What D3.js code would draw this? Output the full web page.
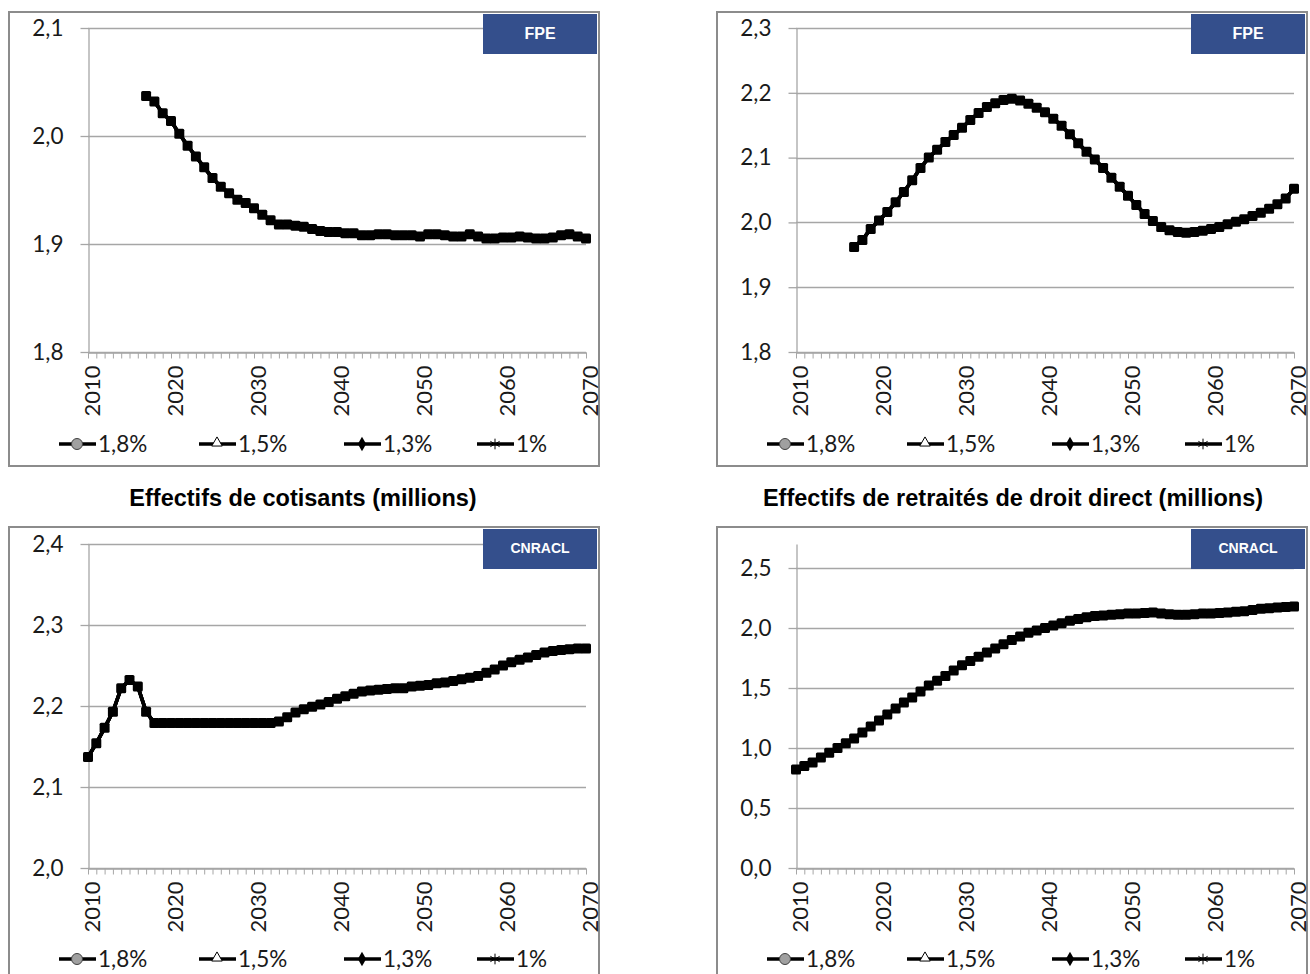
<!DOCTYPE html>
<html><head><meta charset="utf-8">
<script src="https://cdn.jsdelivr.net/npm/d3@7"></script>
<style>body{margin:0;background:#fff}svg{display:block}</style>
</head><body>
<svg id="chart" width="1310" height="974"></svg>
<script>
// ---------- DATA ----------
const years = [2010,2011,2012,2013,2014,2015,2016,2017,2018,2019,
  2020,2021,2022,2023,2024,2025,2026,2027,2028,2029,
  2030,2031,2032,2033,2034,2035,2036,2037,2038,2039,
  2040,2041,2042,2043,2044,2045,2046,2047,2048,2049,
  2050,2051,2052,2053,2054,2055,2056,2057,2058,2059,
  2060,2061,2062,2063,2064,2065,2066,2067,2068,2069,2070];
const xTickLabels = [2010,2020,2030,2040,2050,2060,2070];
const seriesNames = ["1,8%","1,5%","1,3%","1%"];

const fpeCotisants = [null,null,null,null,null,null,null,
  2.037,2.032,2.021,2.014,2.002,1.991,1.981,1.971,1.961,1.953,
  1.947,1.941,1.938,1.933,1.927,1.922,1.918,1.918,1.917,1.916,
  1.914,1.912,1.911,1.911,1.910,1.910,1.908,1.908,1.909,1.909,
  1.908,1.908,1.908,1.907,1.909,1.909,1.908,1.907,1.907,1.909,
  1.907,1.905,1.905,1.906,1.906,1.907,1.906,1.905,1.905,1.906,
  1.908,1.909,1.907,1.905];
const fpeRetraites = [null,null,null,null,null,null,null,
  1.962,1.973,1.990,2.003,2.016,2.031,2.047,2.065,2.084,2.100,
  2.112,2.124,2.135,2.146,2.158,2.169,2.178,2.184,2.189,2.191,
  2.188,2.183,2.177,2.170,2.160,2.149,2.136,2.122,2.109,2.097,
  2.084,2.069,2.055,2.041,2.027,2.013,2.002,1.993,1.988,1.985,
  1.984,1.985,1.987,1.990,1.993,1.997,2.001,2.005,2.010,2.015,
  2.021,2.028,2.037,2.052];
const cnraclCotisants = [
  2.137,2.154,2.173,2.193,2.222,2.232,2.224,2.193,2.179,2.179,
  2.179,2.179,2.179,2.179,2.179,2.179,2.179,2.179,2.179,2.179,
  2.179,2.179,2.179,2.181,2.186,2.192,2.196,2.199,2.202,2.205,
  2.209,2.212,2.215,2.218,2.219,2.220,2.221,2.222,2.222,2.224,
  2.225,2.226,2.228,2.229,2.231,2.233,2.235,2.237,2.241,2.245,
  2.250,2.254,2.257,2.260,2.263,2.266,2.268,2.269,2.270,2.271,
  2.271];
const cnraclRetraites = [
  0.82,0.85,0.88,0.92,0.96,1.00,1.04,1.08,1.13,1.18,
  1.23,1.28,1.33,1.38,1.42,1.47,1.52,1.56,1.60,1.645,
  1.69,1.725,1.76,1.795,1.83,1.865,1.90,1.93,1.96,1.98,
  2.00,2.02,2.04,2.06,2.075,2.09,2.10,2.105,2.11,2.115,
  2.12,2.12,2.125,2.13,2.12,2.115,2.11,2.11,2.115,2.12,
  2.12,2.125,2.13,2.135,2.14,2.15,2.16,2.165,2.17,2.175,
  2.18];

const yTicksFpeCot = [1.8,1.9,2.0,2.1];
const yTicksFpeRet = [1.8,1.9,2.0,2.1,2.2,2.3];
const yTicksCnrCot = [2.0,2.1,2.2,2.3,2.4];
const yTicksCnrRet = [0,0.5,1.0,1.5,2.0,2.5];

const titles = ["Effectifs de cotisants (millions)", "Effectifs de retraités de droit direct (millions)"];

// ---------- LAYOUT ----------
const panels = [
  {box:[9,12,590,454],  plot:[88,28,586,352],   domain:[1.8,2.1], ticks:yTicksFpeCot, values:fpeCotisants,    badge:"FPE",    badgeSize:16},
  {box:[717,12,590,454],plot:[796,28,1294,352], domain:[1.8,2.3], ticks:yTicksFpeRet, values:fpeRetraites,    badge:"FPE",    badgeSize:16},
  {box:[9,527,590,454], plot:[88,544,586,868],  domain:[2.0,2.4], ticks:yTicksCnrCot, values:cnraclCotisants, badge:"CNRACL", badgeSize:14},
  {box:[717,527,590,454],plot:[796,544,1294,868],domain:[0,2.7],  ticks:yTicksCnrRet, values:cnraclRetraites, badge:"CNRACL", badgeSize:14}
];

const svg = d3.select("#chart");
const fmt = v => d3.format(".1f")(v).replace(".", ",");
const tickFont = "Lato, 'Open Sans', sans-serif";
const gridColor = "#a6a6a6";

panels.forEach(p => {
  const [bx,by,bw,bh] = p.box;
  const [x0,y0,x1,y1] = p.plot;
  const g = svg.append("g");
  g.append("rect").attr("x",bx).attr("y",by).attr("width",bw).attr("height",bh)
    .attr("fill","#fff").attr("stroke","#8c8c8c").attr("stroke-width",2);

  const x = d3.scaleLinear().domain([years[0], years[years.length-1]]).range([x0,x1]);
  const y = d3.scaleLinear().domain(p.domain).range([y1,y0]);

  // gridlines
  g.append("g").selectAll("line").data(p.ticks).join("line")
    .attr("x1",x0).attr("x2",x1).attr("y1",d=>Math.round(y(d))+0.5).attr("y2",d=>Math.round(y(d))+0.5)
    .attr("stroke",gridColor).attr("stroke-width",1.3);

  // y axis
  const ya = g.append("g").attr("transform",`translate(${x0+0.5},0)`)
    .call(d3.axisLeft(y).tickValues(p.ticks).tickFormat(fmt).tickSize(8).tickSizeOuter(0).tickPadding(17));
  ya.select(".domain").attr("stroke",gridColor).attr("stroke-width",1.3);
  ya.selectAll(".tick line").attr("stroke",gridColor).attr("stroke-width",1.3);
  ya.selectAll("text").attr("font-family",tickFont).attr("font-size",22.5).attr("fill","#1a1a1a");

  // x axis
  const xa = g.append("g").attr("transform",`translate(0,${Math.round(y1)+0.5})`)
    .call(d3.axisBottom(x).tickValues(years).tickSize(6).tickSizeOuter(0)
      .tickFormat(d => xTickLabels.includes(d) ? String(d) : ""));
  xa.select(".domain").attr("stroke",gridColor).attr("stroke-width",1.3);
  xa.selectAll(".tick line").attr("stroke",gridColor).attr("stroke-width",1);
  xa.selectAll("text").attr("font-family",tickFont).attr("font-size",22).attr("fill","#1a1a1a")
    .attr("y",0).attr("x",-13).attr("dy","0.5em").attr("text-anchor","end").attr("transform","rotate(-90)");

  // series (all four overlap)
  const line = d3.line().defined(d => d.v != null).x(d => x(d.yr)).y(d => y(d.v));
  const pts = years.map((yr,i) => ({yr, v:p.values[i]}));
  seriesNames.forEach(() => {
    g.append("path").datum(pts).attr("d",line).attr("fill","none")
      .attr("stroke","#000").attr("stroke-width",3.5);
  });
  g.append("g").selectAll("rect").data(pts.filter(d=>d.v!=null)).join("rect")
    .attr("x",d=>x(d.yr)-5).attr("y",d=>y(d.v)-5).attr("width",10).attr("height",10)
    .attr("rx",1.5).attr("fill","#000");

  // legend
  const ly = by + 432;
  const offs = [50,190,335,468];
  seriesNames.forEach((name,i) => {
    const lx = bx + offs[i];
    g.append("line").attr("x1",lx).attr("x2",lx+37).attr("y1",ly).attr("y2",ly)
      .attr("stroke","#000").attr("stroke-width",3.5);
    const cx = lx+18;
    if (i===0) g.append("circle").attr("cx",cx).attr("cy",ly).attr("r",5.5)
      .attr("fill","#a0a0a0").attr("stroke","#404040").attr("stroke-width",1);
    if (i===1) g.append("path").attr("d",d3.symbol(d3.symbolTriangle,48)()).attr("transform",`translate(${cx},${ly-1})`)
      .attr("fill","#fff").attr("stroke","#000").attr("stroke-width",1);
    if (i===2) g.append("path").attr("d",d3.symbol(d3.symbolDiamond,60)()).attr("transform",`translate(${cx},${ly})`)
      .attr("fill","#000");
    if (i===3) g.append("path").attr("d",d3.symbol(d3.symbolAsterisk,80)()).attr("transform",`translate(${cx},${ly})`)
      .attr("fill","none").attr("stroke","#000").attr("stroke-width",1);
    g.append("text").attr("x",lx+39).attr("y",ly).attr("dy","0.36em")
      .attr("font-family",tickFont).attr("font-size",22.5).attr("fill","#1a1a1a").text(name);
  });

  // badge
  g.append("rect").attr("x",bx+bw-116).attr("y",by+2).attr("width",114).attr("height",40).attr("fill","#344f8c");
  g.append("text").attr("x",bx+bw-59).attr("y",by+21).attr("dy","0.36em").attr("text-anchor","middle")
    .attr("font-family","'Liberation Sans', Arial, sans-serif").attr("font-weight","bold")
    .attr("font-size",p.badgeSize).attr("fill","#fff").text(p.badge);
});

// titles
svg.append("text").attr("x",303).attr("y",498).attr("dy","0.36em").attr("text-anchor","middle")
  .attr("font-family","'Liberation Sans', Arial, sans-serif").attr("font-weight","bold")
  .attr("font-size",23.5).attr("fill","#000").text(titles[0]);
svg.append("text").attr("x",1013).attr("y",498).attr("dy","0.36em").attr("text-anchor","middle")
  .attr("font-family","'Liberation Sans', Arial, sans-serif").attr("font-weight","bold")
  .attr("font-size",23.5).attr("fill","#000").text(titles[1]);
</script>
</body></html>
